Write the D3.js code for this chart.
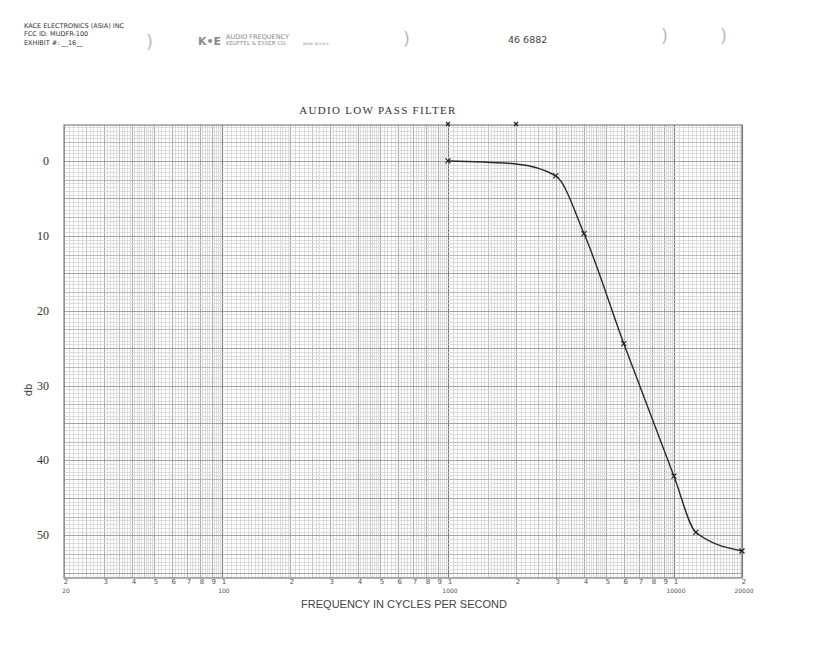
<!DOCTYPE html>
<html><head><meta charset="utf-8">
<script src="https://cdn.jsdelivr.net/npm/d3@7/dist/d3.min.js"></script>
<style>body{margin:0;background:#fff}svg{display:block}</style>
</head><body>
<svg id="c" width="815" height="650"></svg>
<script>
// ---- data ----
const freqs   = [1000, 2000, 3000, 4000, 6000, 10000, 12500, 20000];
const dbLoss  = [0,    0.4,  2.0,  9.7,  24.4, 42.1,  49.6,  52.1];
const marked  = [true, false, true, true, true, true,  true,  true];
const refMarks = [1000, 2000];
const yTickValues = [0, 10, 20, 30, 40, 50];
const xTickValues = [20,30,40,50,60,70,80,90,100,200,300,400,500,600,700,800,900,1000,2000,3000,4000,5000,6000,7000,8000,9000,10000,20000];
const xTickDigits = ["2","3","4","5","6","7","8","9","1","2","3","4","5","6","7","8","9","1","2","3","4","5","6","7","8","9","1","2"];
const decadeLabels = [20, 100, 1000, 10000, 20000];

const svg = d3.select("#c");
const L = 64, R = 742, T = 125, B = 578;
const x = d3.scaleLog().domain([20, 20000]).range([L, R]);
const y = d3.scaleLinear().domain([-4.8, 55.7]).range([T, B]);

// ---- grid ----
const g = svg.append("g");
const vlines = [];
for (let d = 10; d <= 10000; d *= 10) {
  for (let m = 1; m < 10; m++) {
    const step = m < 2 ? 0.05 : (m < 5 ? 0.1 : 0.2);
    for (let k = 0; k < Math.round(1 / step); k++) {
      const v = +(m + k * step).toFixed(3);
      const f = v * d;
      if (f < 20 || f > 20000) continue;
      let cls = 0;
      if (k === 0) cls = (m === 1) ? 3 : 2;
      else if (Math.abs(v - Math.round(v * 2) / 2) < 1e-6 && m < 5) cls = 1;
      vlines.push({f, cls});
    }
  }
}
vlines.push({f: 20000, cls: 3});
const vCol = ["#d4d4d4", "#b4b4b4", "#959595", "#787878"];
g.selectAll("line.v").data(vlines).join("line")
  .attr("x1", d => Math.round(x(d.f)) + 0.5).attr("x2", d => Math.round(x(d.f)) + 0.5)
  .attr("y1", T).attr("y2", B)
  .attr("stroke", d => vCol[d.cls]).attr("stroke-width", d => d.cls === 3 ? 1.1 : 0.8);

const hlines = [];
for (let i = -9; i <= 111; i++) {
  const v = i / 2;
  if (y(v) < T || y(v) > B) continue;
  let cls = 0;
  if (i % 10 === 0) cls = 2; else if (i % 5 === 0) cls = 1;
  hlines.push({v, cls});
}
const hCol = ["#d4d4d4", "#ababab", "#8e8e8e"];
g.selectAll("line.h").data(hlines).join("line")
  .attr("x1", L).attr("x2", R)
  .attr("y1", d => Math.round(y(d.v)) + 0.5).attr("y2", d => Math.round(y(d.v)) + 0.5)
  .attr("stroke", d => hCol[d.cls]).attr("stroke-width", 0.8);

svg.append("rect").attr("x", L).attr("y", T).attr("width", R - L).attr("height", B - T)
  .attr("fill", "none").attr("stroke", "#777").attr("stroke-width", 1.1);

// ---- curve ----
const pts = freqs.map((f, i) => ({f, db: dbLoss[i], m: marked[i]}));
const line = d3.line().x(d => x(d.f)).y(d => y(d.db)).curve(d3.curveMonotoneX);
svg.append("path").datum(pts).attr("d", line)
  .attr("fill", "none").attr("stroke", "#2a2a2a").attr("stroke-width", 1.4);

function xmark(sel, cx, cy, s) {
  sel.append("path").attr("d", `M${cx - s},${cy - s}L${cx + s},${cy + s}M${cx - s},${cy + s}L${cx + s},${cy - s}`)
    .attr("stroke", "#222").attr("stroke-width", 1.2).attr("fill", "none");
}
pts.filter(d => d.m).forEach(d => xmark(svg, x(d.f), y(d.db), 2.5));
refMarks.forEach(f => xmark(svg, x(f), T - 1, 2));

// ---- axes text ----
svg.append("g").selectAll("text").data(yTickValues).join("text")
  .attr("x", 49).attr("y", d => y(d) + 4).attr("text-anchor", "end")
  .attr("font-family", "Liberation Serif, serif").attr("font-size", 12).attr("fill", "#333")
  .text(d => d);

svg.append("text").attr("transform", "translate(32,390) rotate(-90)")
  .attr("text-anchor", "middle").attr("font-family", "DejaVu Sans, sans-serif")
  .attr("font-size", 10).attr("fill", "#444").text("db");

svg.append("g").selectAll("text").data(xTickValues).join("text")
  .attr("x", d => x(d) + 2).attr("y", 584).attr("text-anchor", "middle")
  .attr("font-family", "DejaVu Sans, sans-serif").attr("font-size", 7).attr("fill", "#555")
  .text((d, i) => xTickDigits[i]);

svg.append("g").selectAll("text").data(decadeLabels).join("text")
  .attr("x", d => x(d) + 2).attr("y", 593).attr("text-anchor", "middle")
  .attr("font-family", "DejaVu Sans, sans-serif").attr("font-size", 6).attr("fill", "#555")
  .text(d => d);

svg.append("text").attr("x", 404).attr("y", 608).attr("text-anchor", "middle")
  .attr("font-family", "Liberation Sans, Arial, sans-serif").attr("font-size", 11).attr("fill", "#444")
  .text("FREQUENCY IN CYCLES PER SECOND");

svg.append("text").attr("x", 378).attr("y", 114).attr("text-anchor", "middle")
  .attr("font-family", "Liberation Serif, serif").attr("font-size", 11)
  .attr("letter-spacing", 1.3).attr("fill", "#333").text("AUDIO LOW PASS FILTER");

// ---- header ----
const hd = svg.append("g").attr("font-family", "DejaVu Sans, sans-serif").attr("fill", "#333");
hd.append("text").attr("x", 24).attr("y", 28).attr("font-size", 6.5).text("KACE ELECTRONICS (ASIA) INC");
hd.append("text").attr("x", 24).attr("y", 36).attr("font-size", 6.5).text("FCC ID: MUDFR-100");
hd.append("text").attr("x", 24).attr("y", 45).attr("font-size", 6.5).text("EXHIBIT #: __16__");
hd.append("text").attr("x", 198).attr("y", 45).attr("font-size", 11).attr("font-weight", "bold").attr("fill", "#888").text("K•E");
hd.append("text").attr("x", 226).attr("y", 39).attr("font-size", 6.5).attr("fill", "#888").text("AUDIO FREQUENCY");
hd.append("text").attr("x", 226).attr("y", 45).attr("font-size", 5.5).attr("fill", "#888").text("KEUFFEL & ESSER CO.");
hd.append("text").attr("x", 303).attr("y", 45).attr("font-size", 3.5).attr("fill", "#888").text("MADE IN U.S.A.");
hd.append("text").attr("x", 508).attr("y", 43).attr("font-size", 9.5).attr("fill", "#444").text("46 6882");
[[146, 48], [403, 45], [661, 42], [720, 42]].forEach(p =>
  hd.append("text").attr("x", p[0]).attr("y", p[1]).attr("font-size", 18).attr("fill", "#bbb").text(")"));
</script>
</body></html>
